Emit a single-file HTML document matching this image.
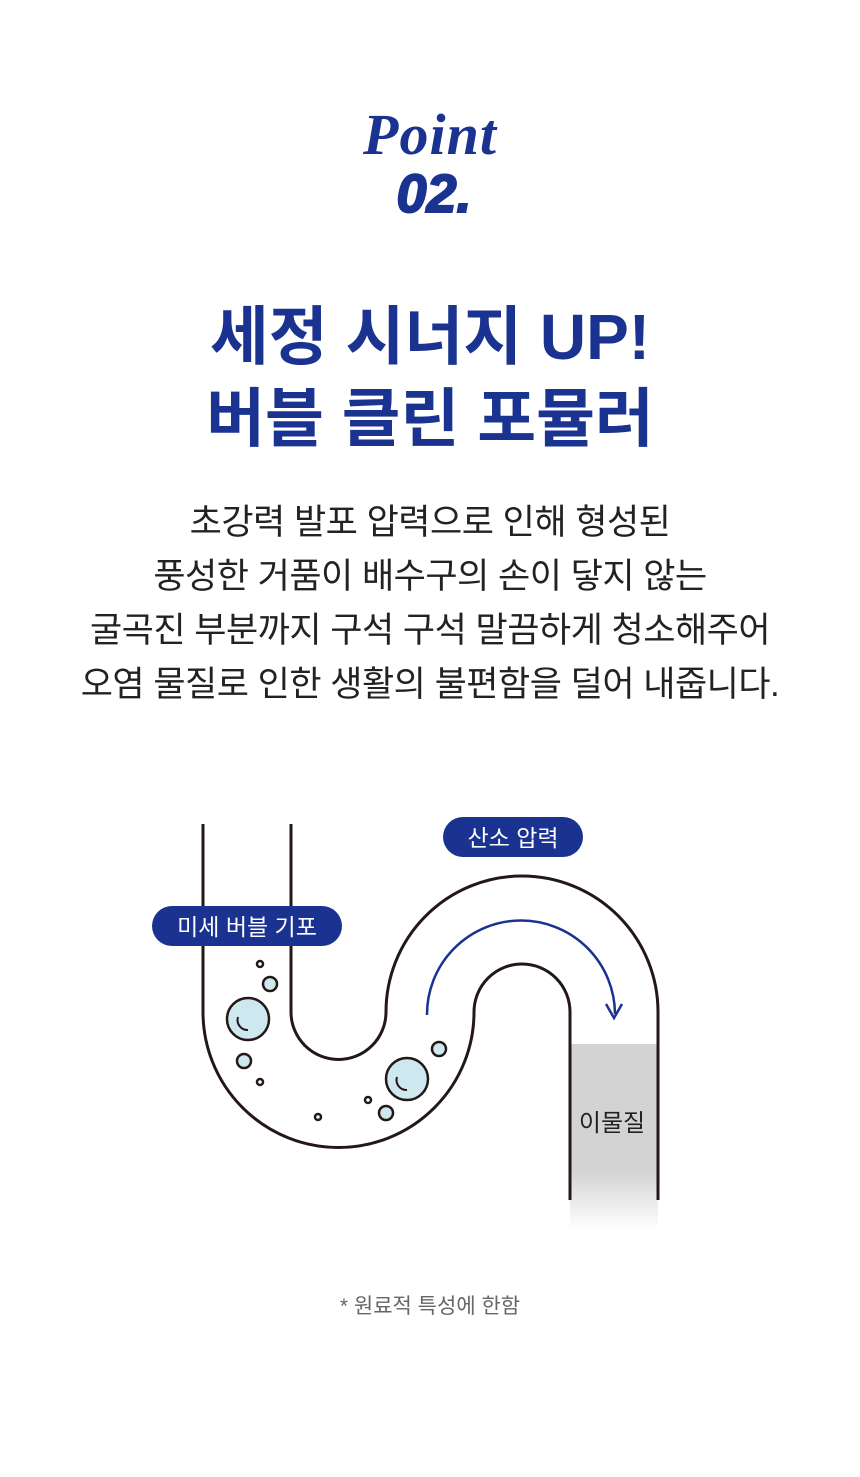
<!DOCTYPE html>
<html><head><meta charset="utf-8"><style>
body{margin:0;width:860px;height:1477px;background:#fff;overflow:hidden;font-family:"Liberation Sans","Noto Sans CJK KR",sans-serif;position:relative}
.c{position:absolute;left:0;width:860px;text-align:center}
</style></head><body>
<div class="c" style="top:102px;font-family:'Liberation Serif',serif;font-style:italic;font-weight:bold;font-size:58px;color:#1a3390;letter-spacing:1px;line-height:66px">Point</div>
<div class="c" style="top:164px;font-family:'Liberation Sans',sans-serif;font-style:italic;font-weight:900;font-size:54px;color:#1a3390;line-height:60px;padding-left:4px;-webkit-text-stroke:2px #1a3390">02.</div>
<div class="c" style="top:296px;font-size:64px;font-weight:bold;color:#1a3390;line-height:82px">세정 시너지 UP!<br>버블 클린 포뮬러</div>
<div class="c" style="top:496px;font-size:35px;color:#222;line-height:54px;letter-spacing:-0.5px">초강력 발포 압력으로 인해 형성된<br>풍성한 거품이 배수구의 손이 닿지 않는<br>굴곡진 부분까지 구석 구석 말끔하게 청소해주어<br>오염 물질로 인한 생활의 불편함을 덜어 내줍니다.</div>
<svg style="position:absolute;left:0;top:0" width="860" height="1477">
<defs><linearGradient id="g" x1="0" y1="0" x2="0" y2="1"><stop offset="0" stop-color="#d3d3d3"/><stop offset="0.68" stop-color="#d3d3d3"/><stop offset="1" stop-color="#fff"/></linearGradient></defs>
<rect x="570" y="1044" width="88" height="186" fill="url(#g)"/>
<g fill="none" stroke="#231815" stroke-width="3">
<path d="M203 824 V1012 A135.5 135.5 0 0 0 474 1012 A48 48 0 0 1 570 1012 V1200"/>
<path d="M291 824 V1012 A47.5 47.5 0 0 0 386 1012 A136 136 0 0 1 658 1012 V1200"/>
</g>
<path d="M427 1015 A94 94 0 0 1 615 1014" fill="none" stroke="#1a3390" stroke-width="2.5"/>
<path d="M606 1004 L614 1018 L622 1004" fill="none" stroke="#1a3390" stroke-width="2.5"/>
<g stroke="#231815" stroke-width="2.5" fill="#cde8ee">
<circle cx="248" cy="1019" r="21"/><circle cx="407" cy="1079" r="21"/>
<circle cx="270" cy="984" r="7"/><circle cx="244" cy="1061" r="7"/><circle cx="439" cy="1049" r="7"/><circle cx="386" cy="1113" r="7"/>
<g fill="#fff"><circle cx="260" cy="964" r="3"/><circle cx="260" cy="1082" r="3"/><circle cx="318" cy="1117" r="3"/><circle cx="368" cy="1100" r="3"/></g>
</g>
<g fill="none" stroke="#231815" stroke-width="2"><path d="M238 1017 A10 10 0 0 0 248 1030"/><path d="M397 1077 A10 10 0 0 0 407 1090"/></g>
<rect x="152" y="906" width="190" height="40" rx="20" fill="#1a3390"/>
<rect x="443" y="817" width="140" height="40" rx="20" fill="#1a3390"/>
<g font-family="Liberation Sans, Noto Sans CJK KR, sans-serif" text-anchor="middle">
<text x="247" y="935" font-size="23" fill="#fff">미세 버블 기포</text>
<text x="513" y="846" font-size="23" fill="#fff">산소 압력</text>
<text x="612" y="1131" font-size="24" fill="#222">이물질</text>
<text x="430" y="1313" font-size="21" fill="#666">* 원료적 특성에 한함</text>
</g>
</svg>
</body></html>
